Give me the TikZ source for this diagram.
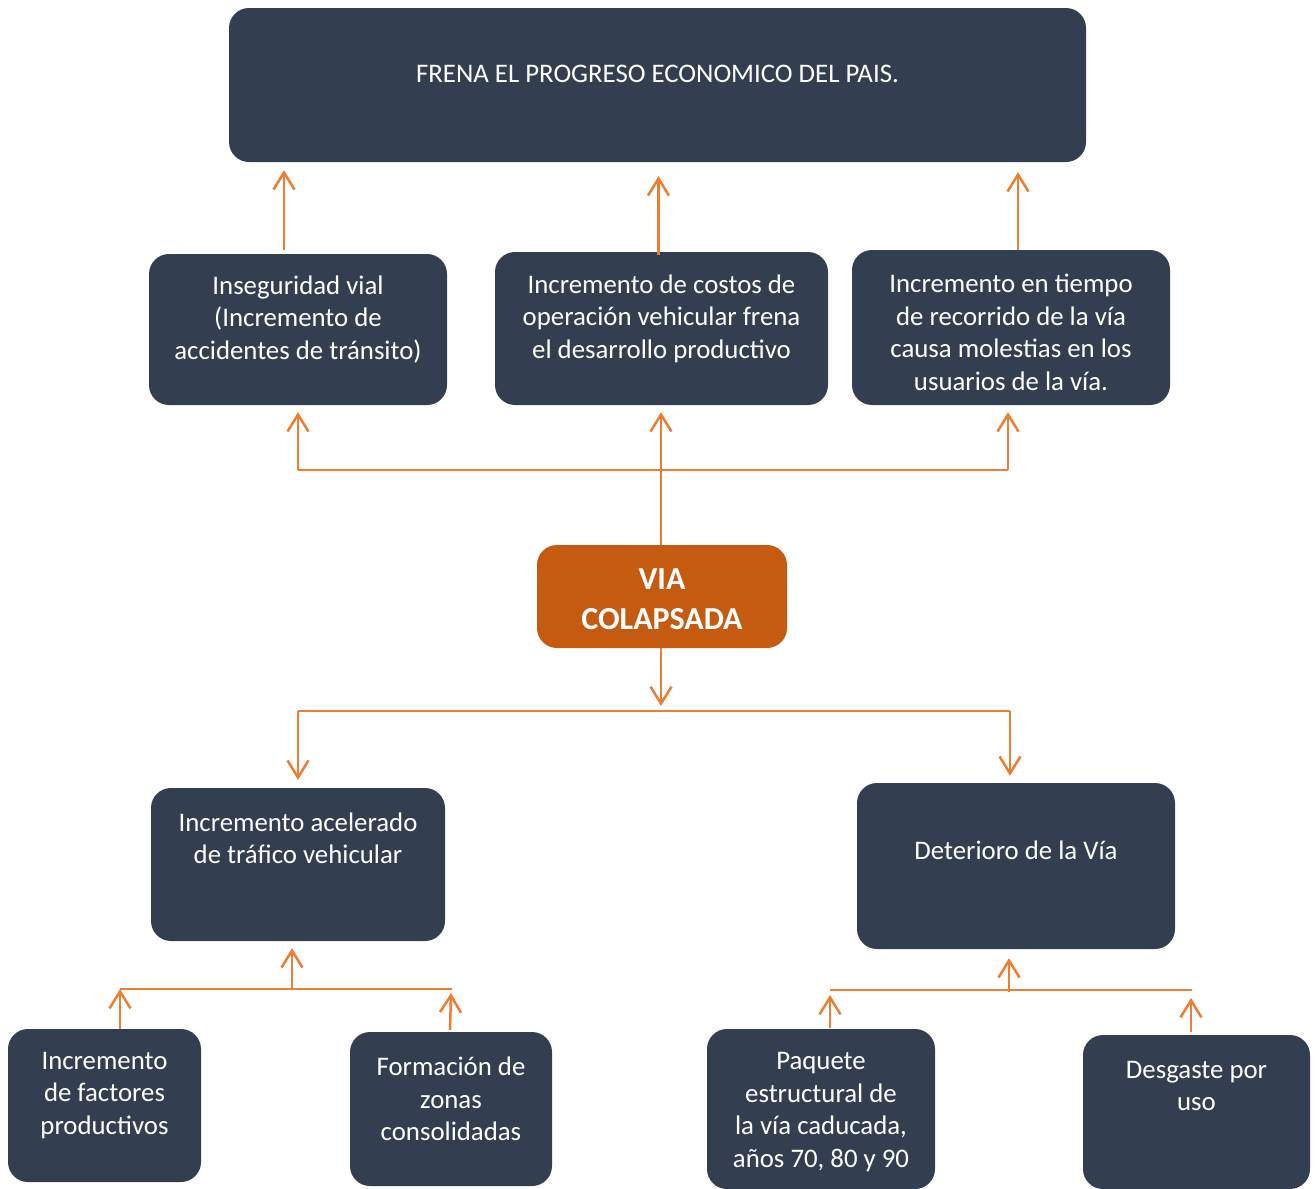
\documentclass[tikz,border=0pt]{standalone}
\usepackage{fontspec}
\setmainfont{Carlito}
\usepackage{tikz}
\usetikzlibrary{arrows.meta, positioning, calc}

\definecolor{azul}{HTML}{333F50}
\definecolor{naranja}{HTML}{C55A11}
\definecolor{linea}{HTML}{ED7D31}

\tikzset{
  caja/.style={fill=azul, draw=none, rounded corners=20pt, inner sep=0pt},
  texto/.style={text=white, align=center, font=\fontsize{26.8}{32.5}\selectfont},
  flecha/.style={draw=linea, line width=2.5pt, -{Straight Barb[length=17pt, width=21pt]}},
  bus/.style={draw=linea, line width=1.6pt}
}

\begin{document}
\begin{tikzpicture}[x=1pt, y=-1pt]
  \useasboundingbox (0,0) rectangle (1315,1189);

  % Efecto final
  \node[caja, minimum width=857pt, minimum height=154pt,
        label={[texto, yshift=11pt]center:FRENA EL PROGRESO ECONOMICO DEL PAIS.}] (frena) at (657.5,85) {};

  % Efectos
  \node[caja, minimum width=298pt, minimum height=151pt,
        label={[texto, yshift=10pt]center:Inseguridad vial\\(Incremento de\\accidentes de tránsito)}] (inseg) at (298,329.5) {};
  \node[caja, minimum width=333pt, minimum height=153pt,
        label={[texto, yshift=10pt]center:Incremento de costos de\\operación vehicular frena\\el desarrollo productivo}] (costos) at (661.5,328.5) {};
  \node[caja, minimum width=318pt, minimum height=155pt,
        label={[texto, yshift=-5pt]center:Incremento en tiempo\\de recorrido de la vía\\causa molestias en los\\usuarios de la vía.}] (tiempo) at (1011,327.5) {};

  % Problema central
  \node[caja, fill=naranja, minimum width=250pt, minimum height=103pt,
        label={[texto, yshift=-2.5pt, font=\fontsize{32}{40}\selectfont\bfseries]center:VIA\\COLAPSADA}] (via) at (662,596.5) {};

  % Causas
  \node[caja, minimum width=294pt, minimum height=153pt,
        label={[texto, yshift=26pt]center:Incremento acelerado\\de tráfico vehicular}] (acel) at (298,864.5) {};
  \node[caja, minimum width=318pt, minimum height=166pt,
        label={[texto, yshift=16pt]center:Deterioro de la Vía}] (deter) at (1016,866) {};

  % Sub causas
  \node[caja, minimum width=193pt, minimum height=153pt,
        label={[texto, yshift=10pt]center:Incremento\\de factores\\productivos}] (factores) at (104.5,1105.5) {};
  \node[caja, minimum width=202pt, minimum height=154pt,
        label={[texto, yshift=10pt]center:Formación de\\zonas\\consolidadas}] (formacion) at (451,1109) {};
  \node[caja, minimum width=228pt, minimum height=160pt,
        label={[texto, yshift=-3pt]center:Paquete\\estructural de\\la vía caducada,\\años 70, 80 y 90}] (paquete) at (821,1109) {};
  \node[caja, minimum width=227pt, minimum height=154pt,
        label={[texto, yshift=26pt]center:Desgaste por\\uso}] (desgaste) at (1196.5,1112) {};

  % Puntos de las barras
  \coordinate (b1) at (298,470);
  \coordinate (b2) at (1008,470);
  \coordinate (b3) at (298,711);
  \coordinate (b4) at (1010,711);
  \coordinate (b5) at (120,989);
  \coordinate (b6) at (452,989);
  \coordinate (b7) at (830,990);
  \coordinate (b8) at (1192,990);

  % Efectos hacia arriba
  \draw[flecha] ([xshift=-14pt,yshift=4pt]inseg.north) -- ([xshift=-14pt,yshift=-8pt]inseg.north |- frena.south);
  \draw[flecha] ([xshift=-3pt,yshift=-3pt]costos.north) -- ([xshift=-3pt,yshift=-14pt]costos.north |- frena.south);
  \draw[flecha] ([xshift=7pt]tiempo.north) -- ([xshift=7pt,yshift=-10pt]tiempo.north |- frena.south);

  % Barra superior
  \draw[bus] (b1) -- (b2);
  \draw[flecha] (b1) -- ([yshift=-7pt]inseg.south);
  \draw[flecha] (b2) -- ([yshift=-7pt]b2 |- tiempo.south);
  \draw[flecha] ([xshift=-1pt]via.north) -- ([xshift=-0.5pt,yshift=-7pt]costos.south);

  % Barra del medio
  \draw[flecha] ([xshift=-1pt]via.south) -- ([xshift=-1pt,yshift=5pt]via.south |- b3);
  \draw[bus] (b3) -- (b4);
  \draw[flecha] (b3) -- ([yshift=8pt]acel.north);
  \draw[flecha] (b4) -- ([yshift=7pt]b4 |- deter.north);

  % Barra inferior izquierda
  \draw[bus] (b5) -- (b6);
  \draw[flecha] ([xshift=-6pt]acel.south |- b5) -- ([xshift=-6pt,yshift=-7pt]acel.south);
  \draw[flecha] ([xshift=15.5pt]factores.north) -- (b5);
  \draw[flecha] ([xshift=-1pt,yshift=2pt]formacion.north) -- ([xshift=-1pt,yshift=-4pt]b6);

  % Barra inferior derecha
  \draw[bus] (b7) -- (b8);
  \draw[flecha] ([xshift=-7pt,yshift=-2pt]deter.south |- b7) -- ([xshift=-7pt,yshift=-9pt]deter.south);
  \draw[flecha] ([xshift=9pt,yshift=1pt]paquete.north) -- ([yshift=-5pt]b7);
  \draw[flecha] ([xshift=-5.5pt,yshift=3pt]desgaste.north) -- ([xshift=-1pt,yshift=-8pt]b8);
\end{tikzpicture}
\end{document}
